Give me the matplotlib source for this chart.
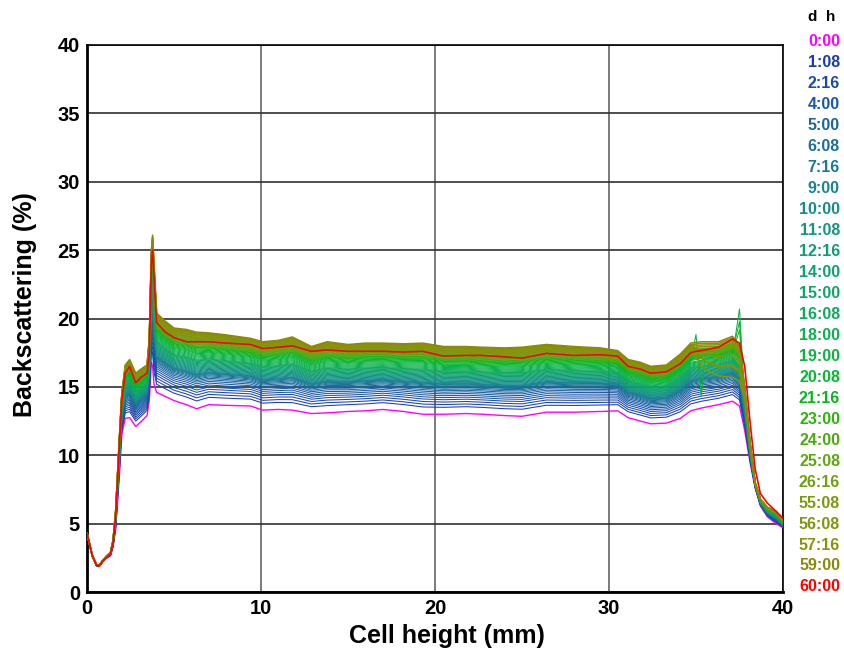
import numpy as np
import matplotlib
matplotlib.use("Agg")
import matplotlib.pyplot as plt
from matplotlib.colors import LinearSegmentedColormap

plt.rcParams['font.family'] = ['Liberation Sans', 'DejaVu Sans']
plt.rcParams['font.weight'] = 'bold'

# -- Data ------------------------------------------------------------------

# common height positions of the profile readings (mm)
height_mm = [0.0, 0.3, 0.55, 0.7, 0.9, 1.1, 1.35, 1.5, 1.65, 1.85,
             2.0, 2.2, 2.45, 2.8, 3.1, 3.45, 3.58, 3.7, 3.77, 3.85,
             4.0, 4.5, 5.0, 5.7, 6.3, 7.0, 8.0, 9.4, 10.1, 11.0,
             11.8, 12.9, 13.8, 15.0, 16.0, 17.0, 18.2, 19.3, 20.5, 21.8,
             22.7, 24.0, 25.0, 26.4, 28.0, 29.5, 30.5, 31.1, 31.8, 32.4,
             33.3, 34.1, 34.7, 35.0, 35.3, 35.5, 36.3, 37.1, 37.5, 37.8,
             38.1, 38.4, 38.7, 39.1, 39.6, 40.0]

# first scan (0:00, magenta)
bs_first = [4.2, 2.6, 1.9, 1.85, 2.2, 2.45, 2.65, 3.3, 4.6, 8.3,
            11.5, 12.7, 12.75, 12.1, 12.45, 12.9, 14.0, 16.8, 16.5, 15.2,
            14.6, 14.3, 14.0, 13.7, 13.4, 13.7, 13.65, 13.6, 13.3, 13.35,
            13.3, 13.05, 13.1, 13.2, 13.25, 13.35, 13.2, 13.0, 13.0, 13.05,
            13.0, 12.9, 12.85, 13.15, 13.15, 13.2, 13.25, 12.75, 12.5, 12.3,
            12.35, 12.7, 13.25, 13.35, 13.45, 13.5, 13.7, 13.95, 13.6, 11.8,
            9.5, 7.6, 6.3, 5.5, 5.0, 4.7]

# upper envelope of the late (olive) scans
bs_top = [4.3, 2.7, 2.0, 1.95, 2.3, 2.6, 2.9, 3.8, 6.0, 11.0,
          14.5, 16.6, 17.0, 16.0, 16.3, 16.6, 18.5, 25.0, 26.1, 24.0,
          20.4, 19.8, 19.3, 19.2, 19.0, 18.95, 18.8, 18.55, 18.3, 18.4,
          18.65, 17.95, 18.3, 18.1, 18.2, 18.2, 18.15, 18.2, 17.95, 17.95,
          17.9, 17.85, 17.9, 18.1, 17.95, 17.85, 17.65, 17.0, 16.8, 16.5,
          16.6, 17.4, 18.2, 18.25, 18.3, 18.3, 18.3, 18.7, 18.0, 15.0,
          11.0, 8.0, 6.8, 6.2, 5.9, 5.2]

# last scan (60:00, red)
bs_last = [4.3, 2.65, 1.95, 1.9, 2.25, 2.5, 2.8, 3.6, 5.6, 10.5,
           14.0, 16.0, 16.5, 15.3, 15.7, 16.0, 17.5, 24.0, 25.0, 23.0,
           19.7, 19.0, 18.6, 18.3, 18.3, 18.3, 18.2, 18.1, 17.8, 17.9,
           18.0, 17.6, 17.7, 17.6, 17.6, 17.6, 17.55, 17.6, 17.25, 17.3,
           17.3, 17.2, 17.1, 17.45, 17.3, 17.35, 17.25, 16.5, 16.3, 16.0,
           16.1, 16.7, 17.5, 17.6, 17.65, 17.7, 17.9, 18.5, 18.2, 16.5,
           12.5, 9.0, 7.2, 6.5, 5.9, 5.4]

# level of every intermediate scan at 22.7 mm, in time order
ref_mm = 22.7
level_ref = [13.50, 13.70, 13.88, 14.05, 14.20, 14.34, 14.47, 14.59, 14.70,
             14.80, 14.89, 14.97, 15.04, 15.10, 15.15, 15.19, 15.23,
             15.29, 15.35, 15.41, 15.47, 15.53, 15.59, 15.65, 15.71, 15.77,
             15.83, 15.89, 15.95, 16.01, 16.06, 16.11,
             16.17, 16.24, 16.31, 16.38, 16.45, 16.52, 16.58, 16.64, 16.70,
             16.76, 16.82,
             16.87, 16.92, 16.97, 17.02, 17.07, 17.12, 17.16, 17.20, 17.24,
             17.28, 17.32, 17.36,
             17.42, 17.48, 17.54, 17.60, 17.66, 17.72, 17.78, 17.84, 17.90]

# local artefacts seen on a few scans
spike_at_mm = 37.5
spike_curves = [36, 39, 41]
spike_heights = [4.0, 2.3, 2.8]

dip_curve = 38
dip_x = [35.0, 35.3]
dip_dy = [1.9, -2.7]

sag_curves = [56, 58, 60, 62]
sag_scale = [1.0, 0.7, 0.45, 0.85]
sag_x = [34.7, 35.0, 35.3, 35.5, 36.3, 37.1, 37.5, 37.8]
sag_dy = [0.0, -0.6, -1.3, -1.6, -2.1, -2.6, -2.2, -0.6]

time_labels = ["0:00", "1:08", "2:16", "4:00", "5:00", "6:08", "7:16",
               "9:00", "10:00", "11:08", "12:16", "14:00", "15:00", "16:08",
               "18:00", "19:00", "20:08", "21:16", "23:00", "24:00", "25:08",
               "26:16", "55:08", "56:08", "57:16", "59:00", "60:00"]
label_colors = ["#ff00ff", "#1a3caf", "#1a4bab", "#1b58a6", "#1b64a0",
                "#1a6f9c", "#197a96", "#18858f", "#178d8a", "#149582",
                "#129b79", "#10a170", "#0fa668", "#0eab5c", "#0db050",
                "#0cb343", "#0bb533", "#0ab520", "#30b012", "#4aaa10",
                "#5fa510", "#6ea010", "#7a9a0e", "#82960c", "#88920a",
                "#8a8a08", "#ff0000"]

# -- Plot --------------------------------------------------------------------

x = np.array(height_mm)
first = np.array(bs_first)
top = np.array(bs_top)
last = np.array(bs_last)

f0 = np.interp(ref_mm, x, first)
f1 = np.interp(ref_mm, x, top)

cmap = LinearSegmentedColormap.from_list("scan", label_colors[1:-1])
n = len(level_ref)

fig = plt.figure(figsize=(8.44, 6.55), dpi=100)
ax = fig.add_axes([87 / 844, 63 / 655, 696 / 844, 547 / 655])

ax.plot(x, first, color=label_colors[0], lw=1.0, zorder=3)

for i, lev in enumerate(level_ref):
    frac = (lev - f0) / (f1 - f0)
    y = first + frac * (top - first)
    if i in spike_curves:
        k = height_mm.index(spike_at_mm)
        y[k] += spike_heights[spike_curves.index(i)]
    if i == dip_curve:
        for xx, dd in zip(dip_x, dip_dy):
            y[height_mm.index(xx)] += dd
    if i in sag_curves:
        s = sag_scale[sag_curves.index(i)]
        for xx, dd in zip(sag_x, sag_dy):
            y[height_mm.index(xx)] += s * dd
    # late scans draw heavier, like the thick olive band in the original
    w = 1.1 if i >= 55 else 0.75
    ax.plot(x, y, color=cmap(i / (n - 1)), lw=w, zorder=3)

ax.plot(x, last, color=label_colors[-1], lw=1.2, zorder=4)

ax.set_xlim(0, 40)
ax.set_ylim(0, 40)
ax.set_xticks([0, 10, 20, 30, 40])
ax.set_yticks(range(0, 45, 5))
ax.tick_params(length=0, labelsize=14.5, pad=5)
ax.xaxis.grid(True, color="#707070", lw=1.3)
ax.yaxis.grid(True, color="#303030", lw=1.2)
ax.set_axisbelow(True)
for side in ["left", "bottom"]:
    ax.spines[side].set_linewidth(2.0)
for side in ["top", "right"]:
    ax.spines[side].set_linewidth(1.2)

ax.set_xlabel("Cell height (mm)", fontsize=18, fontweight="bold")
ax.set_ylabel("Backscattering (%)", fontsize=18, fontweight="bold")
ax.xaxis.set_label_coords(0.517, -0.058)
ax.yaxis.set_label_coords(-0.072, 0.525)

# time list on the right
fig.text(822 / 844, 1 - 17 / 655, "d  h", ha="center", va="center",
         fontsize=11, fontweight="bold", color="black")
for k, (lab, col) in enumerate(zip(time_labels, label_colors)):
    fig.text(840 / 844, 1 - (42 + k * 20.96) / 655, lab, ha="right",
             va="center", fontsize=11.5, fontweight="bold", color=col)

fig.savefig("out.png", dpi=100)
